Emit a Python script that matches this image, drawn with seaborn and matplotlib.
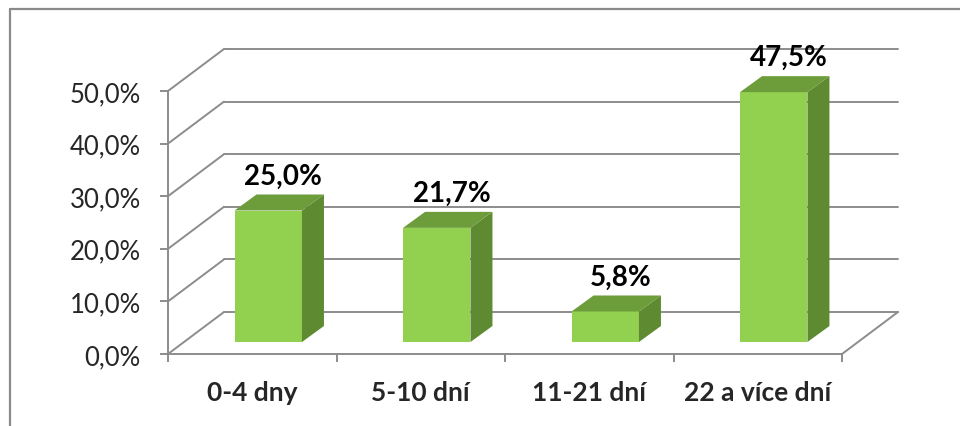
import matplotlib
matplotlib.use("Agg")
import matplotlib.pyplot as plt
from matplotlib.patches import Polygon
from matplotlib.lines import Line2D
import pandas as pd
import seaborn as sns

categories = ["0-4 dny", "5-10 dní", "11-21 dní", "22 a více dní"]
shares = [25.0, 21.7, 5.8, 47.5]
value_labels = ["25,0%", "21,7%", "5,8%", "47,5%"]
y_ticks = [0, 10, 20, 30, 40, 50]
y_tick_labels = ["0,0%", "10,0%", "20,0%", "30,0%", "40,0%", "50,0%"]

FRONT = "#92D050"
SIDE = "#5E8A32"
TOP = "#6D9C3B"
GRID = "#8C8C8C"

sns.set_style("white")
plt.rcParams["font.family"] = ["Lato", "DejaVu Sans"]

W, H, DPI = 960, 427, 100
fig = plt.figure(figsize=(W / DPI, H / DPI), dpi=DPI)

# front plane of the box in pixel units (rows counted from the top)
X0, X1 = 168, 842
Y_ZERO, Y_TOP = 355, 92
ax = fig.add_axes([X0 / W, (H - Y_ZERO) / H, (X1 - X0) / W, (Y_ZERO - Y_TOP) / H])

df = pd.DataFrame({"category": categories, "share": shares})
sns.barplot(data=df, x="category", y="share", color=FRONT, saturation=1,
            width=0.4, linewidth=0, ax=ax, zorder=3)
ax.set_xlim(-0.5, len(categories) - 0.5)
ax.set_ylim(0, 50)

# pixel -> data conversion for the depth offsets
sx = (X1 - X0) / len(categories)
sy = (Y_ZERO - Y_TOP) / 50.0
def px(dx, dy):
    return dx / sx, dy / sy

wall_dx, wall_dy = px(56, 42)      # back wall of the box
bar_dx0, bar_dy0 = px(16, 12)      # front face of each bar
bar_ddx, bar_ddy = px(22, 16)      # bar depth

# back wall gridlines and left wall diagonals
xl, xr = -0.5, len(categories) - 0.5
for t in y_ticks:
    ax.add_line(Line2D([xl + wall_dx, xr + wall_dx], [t + wall_dy, t + wall_dy],
                       color=GRID, lw=1.4, zorder=1, clip_on=False))
    ax.add_line(Line2D([xl, xl + wall_dx], [t, t + wall_dy],
                       color=GRID, lw=1.4, zorder=1, clip_on=False))
ax.add_line(Line2D([xr, xr + wall_dx], [0, wall_dy],
                   color=GRID, lw=1.4, zorder=1, clip_on=False))

# shift front faces into the box and add side / top faces
for patch, lab in zip(ax.patches, value_labels):
    x = patch.get_x() + bar_dx0
    w = patch.get_width()
    h = patch.get_height()
    y0 = bar_dy0
    patch.set_x(x)
    patch.set_y(y0)
    patch.set_clip_on(False)
    side = Polygon([(x + w, y0), (x + w, y0 + h),
                    (x + w + bar_ddx, y0 + h + bar_ddy), (x + w + bar_ddx, y0 + bar_ddy)],
                   closed=True, facecolor=SIDE, edgecolor="none", zorder=3, clip_on=False)
    top = Polygon([(x, y0 + h), (x + w, y0 + h),
                   (x + w + bar_ddx, y0 + h + bar_ddy), (x + bar_ddx, y0 + h + bar_ddy)],
                  closed=True, facecolor=TOP, edgecolor="none", zorder=3, clip_on=False)
    ax.add_patch(side)
    ax.add_patch(top)
    lx = x + w / 2 + 15 / sx
    ly = y0 + h + bar_ddy + 11 / sy
    ax.text(lx, ly, lab, ha="center", va="baseline", fontsize=20,
            fontweight="bold", color="black", zorder=5, clip_on=False)

# axes: left wall edge and front floor edge
for name, sp in ax.spines.items():
    if name in ("left", "bottom"):
        sp.set_visible(True)
        sp.set_color(GRID)
        sp.set_linewidth(1.4)
        sp.set_zorder(4)
    else:
        sp.set_visible(False)

ax.set_yticks(y_ticks)
ax.set_yticklabels(y_tick_labels)
ax.set_xticks([i - 0.5 for i in range(len(categories) + 1)])
ax.set_xticklabels([""] * (len(categories) + 1))
ax.set_xticks(range(len(categories)), minor=True)
ax.set_xticklabels(categories, minor=True, fontweight="bold")
ax.tick_params(axis="y", which="major", direction="out", length=5.5, width=1.4,
               color=GRID, pad=14, labelsize=18.5, left=True)
ax.tick_params(axis="x", which="major", direction="out", length=5.5, width=1.4,
               color=GRID, bottom=True)
ax.tick_params(axis="x", which="minor", length=0, pad=19, labelsize=19)
ax.set_xlabel("")
ax.set_ylabel("")
ax.grid(False)
ax.set_facecolor("none")

# chart frame
fig.add_artist(Line2D([10 / W, 10 / W], [0, 1 - 10 / H], color="#8A8A8A", lw=1.6))
fig.add_artist(Line2D([10 / W, 1], [1 - 10 / H, 1 - 10 / H], color="#8A8A8A", lw=1.6))

fig.savefig("out.png", dpi=DPI)
